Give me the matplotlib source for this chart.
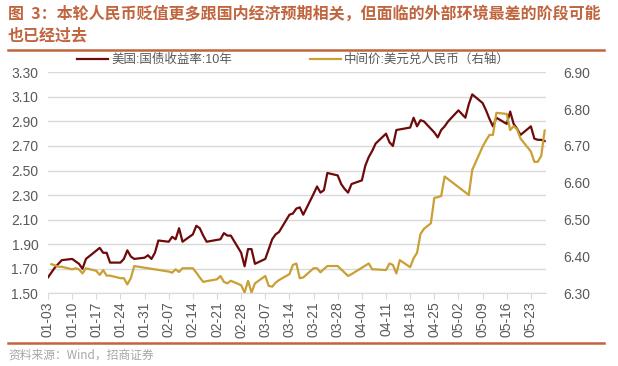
import matplotlib
matplotlib.use('Agg')
import matplotlib.pyplot as plt
import matplotlib.dates as mdates
from matplotlib.lines import Line2D
import pandas as pd

plt.rcParams['font.family'] = ['Liberation Sans', 'Noto Sans CJK SC']

# data (2022)
us_dates = ['01-03', '01-04', '01-05', '01-06', '01-07', '01-10', '01-11', '01-12', '01-13', '01-14',
            '01-18', '01-19', '01-20', '01-21', '01-24', '01-25', '01-26', '01-27', '01-28', '01-31',
            '02-01', '02-02', '02-03', '02-04', '02-07', '02-08', '02-09', '02-10', '02-11', '02-14',
            '02-15', '02-16', '02-17', '02-18', '02-22', '02-23', '02-24', '02-25', '02-28', '03-01',
            '03-02', '03-03', '03-04', '03-07', '03-08', '03-09', '03-10', '03-11', '03-14', '03-15',
            '03-16', '03-17', '03-18', '03-21', '03-22', '03-23', '03-24', '03-25', '03-28', '03-29',
            '03-30', '03-31', '04-01', '04-04', '04-05', '04-06', '04-07', '04-08', '04-11', '04-12',
            '04-13', '04-14', '04-18', '04-19', '04-20', '04-21', '04-22', '04-25', '04-26', '04-27',
            '04-28', '04-29', '05-02', '05-03', '05-04', '05-05', '05-06', '05-09', '05-10', '05-11',
            '05-12', '05-13', '05-16', '05-17', '05-18', '05-19', '05-20', '05-23', '05-24', '05-25',
            '05-26', '05-27']
us_yield = [1.63, 1.67, 1.71, 1.74, 1.77, 1.78, 1.76, 1.74, 1.70, 1.78,
            1.87, 1.83, 1.83, 1.75, 1.75, 1.78, 1.85, 1.80, 1.78, 1.79,
            1.81, 1.78, 1.83, 1.93, 1.92, 1.96, 1.94, 2.03, 1.92, 1.98,
            2.05, 2.03, 1.97, 1.92, 1.94, 1.99, 1.97, 1.97, 1.83, 1.72,
            1.86, 1.86, 1.74, 1.78, 1.86, 1.94, 1.98, 2.00, 2.14, 2.15,
            2.19, 2.20, 2.14, 2.31, 2.37, 2.32, 2.34, 2.48, 2.46, 2.39,
            2.35, 2.32, 2.39, 2.42, 2.54, 2.61, 2.66, 2.72, 2.80, 2.73,
            2.70, 2.83, 2.85, 2.93, 2.86, 2.91, 2.90, 2.81, 2.77, 2.83,
            2.86, 2.90, 2.99, 2.96, 2.93, 3.04, 3.12, 3.05, 2.99, 2.92,
            2.86, 2.93, 2.88, 2.98, 2.88, 2.84, 2.79, 2.86, 2.76, 2.75,
            2.75, 2.74]

cny_dates = ['01-04', '01-05', '01-06', '01-07', '01-10', '01-11', '01-12', '01-13', '01-14', '01-17',
             '01-18', '01-19', '01-20', '01-21', '01-24', '01-25', '01-26', '01-27', '01-28', '02-07',
             '02-08', '02-09', '02-10', '02-11', '02-14', '02-15', '02-16', '02-17', '02-18', '02-21',
             '02-22', '02-23', '02-24', '02-25', '02-28', '03-01', '03-02', '03-03', '03-04', '03-07',
             '03-08', '03-09', '03-10', '03-11', '03-14', '03-15', '03-16', '03-17', '03-18', '03-21',
             '03-22', '03-23', '03-24', '03-25', '03-28', '03-29', '03-30', '03-31', '04-01', '04-06',
             '04-07', '04-08', '04-11', '04-12', '04-13', '04-14', '04-15', '04-18', '04-19', '04-20',
             '04-21', '04-22', '04-24', '04-25', '04-26', '04-27', '04-28', '05-05', '05-06', '05-09',
             '05-10', '05-11', '05-12', '05-13', '05-16', '05-17', '05-18', '05-19', '05-20', '05-23',
             '05-24', '05-25', '05-26', '05-27']
cny_mid = [6.379, 6.376, 6.372, 6.372, 6.365, 6.368, 6.365, 6.354, 6.368, 6.361,
           6.350, 6.363, 6.348, 6.348, 6.341, 6.341, 6.324, 6.341, 6.374, 6.359,
           6.356, 6.365, 6.358, 6.368, 6.368, 6.356, 6.343, 6.331, 6.333, 6.338,
           6.347, 6.331, 6.327, 6.334, 6.322, 6.302, 6.334, 6.302, 6.327, 6.347,
           6.320, 6.318, 6.329, 6.336, 6.352, 6.377, 6.381, 6.341, 6.343, 6.368,
           6.368, 6.357, 6.366, 6.374, 6.374, 6.365, 6.356, 6.347, 6.352, 6.381,
           6.365, 6.365, 6.363, 6.381, 6.377, 6.354, 6.390, 6.371, 6.395, 6.410,
           6.461, 6.475, 6.490, 6.559, 6.561, 6.564, 6.617, 6.567, 6.635, 6.698,
           6.715, 6.730, 6.730, 6.790, 6.787, 6.743, 6.754, 6.745, 6.720, 6.685,
           6.657, 6.657, 6.673, 6.742]

us_label = '美国:国债收益率:10年'
cny_label = '中间价:美元兑人民币（右轴）'
title1 = '图  3：本轮人民币贬值更多跟国内经济预期相关，但面临的外部环境最差的阶段可能'
title2 = '也已经过去'
source = '资料来源：Wind，招商证券'

def to_dt(lst):
    return pd.to_datetime(['2022-' + d for d in lst])

us_x = to_dt(us_dates)
cny_x = to_dt(cny_dates)

title_color = '#C0653E'
grey = '#595959'
grid_c = '#D9D9D9'

fig = plt.figure(figsize=(6.18, 3.66), dpi=100)
W, H = 618, 366
ax = fig.add_axes([48 / W, 1 - 293.3 / H, (545.7 - 47.3) / W, (293.3 - 72.3) / H])
ax2 = ax.twinx()

l1, = ax.plot(us_x, us_yield, color='#6E0A0A', lw=1.6, label=us_label)
l2, = ax2.plot(cny_x, cny_mid, color='#C9A034', lw=1.6, label=cny_label)

ax.set_xlim(pd.Timestamp('2022-01-03'), pd.Timestamp('2022-01-03') + pd.Timedelta(days=144.5))
ax.set_ylim(1.5, 3.3)
ax2.set_ylim(6.3, 6.9)
ax.set_yticks([1.5 + 0.2 * i for i in range(10)])
ax2.set_yticks([6.3 + 0.1 * i for i in range(7)])
ax.yaxis.set_major_formatter(plt.FormatStrFormatter('%.2f'))
ax2.yaxis.set_major_formatter(plt.FormatStrFormatter('%.2f'))
ax.yaxis.grid(True, color=grid_c, lw=1)
ax.set_axisbelow(True)

xt = pd.date_range('2022-01-03', '2022-05-23', freq='7D')
ax.set_xticks(xt)
ax.xaxis.set_major_formatter(mdates.DateFormatter('%m-%d'))
for lab in ax.get_xticklabels():
    lab.set_rotation(90)

for a in (ax, ax2):
    for s in a.spines.values():
        s.set_visible(False)
ax.spines['bottom'].set_visible(True)
ax.spines['bottom'].set_color(grid_c)

ax.tick_params(axis='x', length=4, color=grid_c, labelsize=10, labelcolor=grey, pad=2)
ax.tick_params(axis='y', length=0, pad=7, labelsize=10, labelcolor=grey)
ax2.tick_params(axis='y', length=0, pad=12, labelsize=10, labelcolor=grey)

fig.legend(handles=[l1, l2], loc='center left', bbox_to_anchor=(77 / W, 1 - 60 / H),
           ncol=2, frameon=False, fontsize=9, handlelength=2.5, handletextpad=0.25,
           columnspacing=6.2, borderpad=0, borderaxespad=0, labelcolor=grey)

fig.text(8 / W, 1 - 14 / H, title1, fontsize=11.5, fontweight='bold', color=title_color,
         va='center', ha='left', family=['Noto Sans CJK SC'])
fig.text(8 / W, 1 - 35 / H, title2, fontsize=11.5, fontweight='bold', color=title_color,
         va='center', ha='left', family=['Noto Sans CJK SC'])
fig.add_artist(Line2D([8 / W, 604 / W], [1 - 50 / H] * 2, color=title_color, lw=1.8))
fig.add_artist(Line2D([8 / W, 604 / W], [1 - 343 / H] * 2, color=title_color, lw=1.8))
fig.text(8 / W, 1 - 355 / H, source, fontsize=8.5, color='#A6A6A6', va='center', ha='left',
         family=['Noto Sans CJK SC'])

fig.savefig('out.png', dpi=100)
